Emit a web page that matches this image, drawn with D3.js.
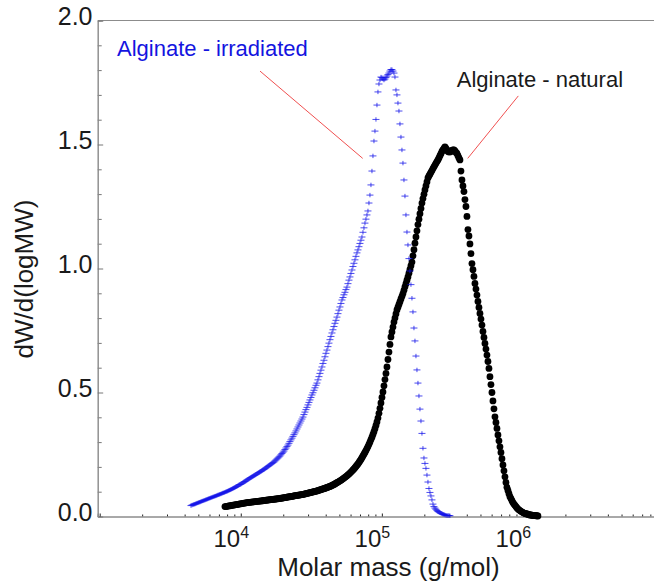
<!DOCTYPE html>
<html>
<head>
<meta charset="utf-8">
<script src="https://cdn.jsdelivr.net/npm/d3@7"></script>
<style>
    body { margin: 0; background: #fff; }
    text { font-family: "Liberation Sans", Arial, sans-serif; fill: #1a1a1a; }
</style>
</head>
<body>
<svg id="chart" width="654" height="586"></svg>
<script>
// GPC traces, sampled at a fixed step in log10(molar mass).
const logStep = 0.007088;
const irradiatedLogStart = 3.647;
const naturalLogStart = 3.888;

// dW/d(logMW), alginate after irradiation (blue crosses)
const irradiatedValues = [
    .044,.046,.047,.049,.050,.052,.054,.055,.057,.058,.060,.062,.063,.065,.066,.068,.069,.071,.073,.074,.076,.077,.079,
    .080,.082,.083,.085,.087,.088,.090,.091,.093,.095,.096,.098,.100,.101,.103,.105,.107,
    .109,.111,.113,.115,.117,.120,.122,.124,.127,.129,.131,.134,.136,.139,.141,.144,.147,
    .150,.152,.155,.157,.160,.162,.165,.167,.170,.172,.175,.177,.180,.182,.185,.188,
    .190,.193,.196,.199,.202,.205,.208,.211,.214,.217,.220,.224,.228,.232,
    .236,.240,.244,.249,.254,.259,.264,.270,.276,.282,.288,.295,.302,.309,.316,.323,.330,.337,
    .345,.353,.361,.369,.377,.385,.393,.401,
    .411,.421,.431,.440,.450,.460,.470,
    .480,.490,.499,.509,.519,.529,.538,
    .551,.564,.577,.590,.603,
    .617,.630,.644,.658,.671,
    .685,.699,.713,.726,.740,
    .753,.766,.779,.791,.804,
    .818,.832,.845,.859,.873,
    .883,.894,.904,.915,.925,
    .939,.953,.966,.980,.994,
    1.008,1.021,1.035,1.049,1.063,
    1.075,1.088,1.101,1.114,1.127,
    1.146,1.164,1.183,
    1.199,1.216,1.232,
    1.264,1.296,1.337,1.393,1.454,1.514,1.554,1.601,1.659,1.712,1.744,1.760,
    1.772,1.770,1.764,1.760,1.764,1.770,1.776,1.782,1.788,1.796,1.802,1.802,1.796,1.788,1.772,
    1.720,1.700,1.667,1.635,1.583,1.530,1.478,1.425,1.357,1.292,1.216,1.147,1.095,
    1.040,.990,.935,.880,.825,.760,.708,.647,.591,.538,.486,.433,
    .385,.335,.275,.236,.214,.194,.167,.139,.113,.097,.083,.067,.050,.040,.034,.029,
    .024,.020,.018,.015,.013,.011,.009,.008,.006,.005,.004,.004,.004,.003
];

// dW/d(logMW), natural alginate (black dots)
const naturalValues = [
    .040,.040,.041,.042,.043,.043,.044,.045,.046,.046,.047,.048,.048,.049,.050,.051,.051,.052,.053,.054,.054,.055,.056,
    .056,.057,.057,.058,.058,.059,.059,.060,.060,.061,.061,.062,.062,.063,.063,.064,.065,.065,.066,.066,.067,.067,.068,.068,.069,.069,.070,.070,.071,.071,.072,.072,.073,
    .074,.074,.075,.076,.076,.077,.078,.079,.079,.080,.081,.081,.082,.083,.084,.084,.085,.086,.086,.087,.088,.088,.089,.090,.091,
    .092,.093,.094,.095,.096,.097,.098,.099,.100,.101,.102,.103,.104,.106,.107,.108,.110,.111,.112,.114,.115,.117,.118,.120,.121,
    .123,.125,.127,.129,.131,.134,.136,.139,.141,.144,.146,.149,.152,.155,.158,.161,.164,
    .168,.171,.175,.179,.183,.188,.192,.197,.202,.207,.212,.218,.224,
    .230,.237,.244,.251,.258,.266,.274,.282,.291,.300,
    .310,.320,.331,.342,.354,.367,.381,
    .397,.416,.436,.458,.480,.502,
    .527,.552,.577,.603,.633,.663,.694,.724,
    .744,.764,.784,.800,.817,.833,
    .844,.855,.866,.877,.888,.899,
    .912,.926,.939,.953,.966,
    .981,.996,1.011,1.026,
    1.051,1.076,1.102,1.127,1.152,1.177,
    1.199,1.221,1.242,1.264,
    1.282,1.299,1.317,1.333,1.349,1.365,
    1.373,1.380,1.388,1.395,1.403,
    1.410,1.417,1.424,1.431,1.438,
    1.446,1.455,1.463,1.472,1.478,1.484,1.490,
    1.484,1.478,1.472,1.470,1.470,1.472,1.476,1.478,1.478,1.474,1.468,1.464,1.455,1.446,1.438,
    1.393,1.357,1.333,1.310,1.278,1.250,1.210,1.157,1.131,1.099,1.060,1.020,.995,.968,.940,
    .917,.893,.867,.843,.819,.796,.772,.746,.722,.698,.675,.651,.625,.597,.564,
    .532,.500,.466,.434,.402,.379,.355,.329,.305,.281,.258,.233,.208,.184,.160,
    .137,.118,.105,.092,.080,.072,.064,.056,.050,.045,.040,.035,.030,.027,.024,
    .021,.019,.016,.014,.013,.011,.010,.009,.007,.006,.006,.005,.004,.004,.004,.003,.003,.002
];

const yMajorTicks = [0, 0.5, 1.0, 1.5, 2.0];
const xLabelExponents = [4, 5, 6];

// Annotation text and the leader lines, in data coordinates.
const labelTexts = ["Alginate - irradiated", "Alginate - natural"];
const labelColors = ["#1414e0", "#1a1a1a"];
const labelAnchors = [[1327, 1.857], [339400, 1.732]];
const leaderStarts = [[13690, 1.796], [927600, 1.696]];
const leaderEnds = [[73170, 1.444], [406100, 1.444]];

const plot = { left: 97.7, right: 664, top: 20.5, bottom: 516.5 };

const svg = d3.select("#chart");

const x = d3.scaleLog()
    .domain([968, 1e7])
    .range([plot.left, plot.right]);

const y = d3.scaleLinear()
    .domain([0, 2])
    .range([plot.bottom, plot.top]);

// Pair each value with its molar mass.
const toPoints = (start, values) => values.map((v, i) => ({ m: Math.pow(10, start + i * logStep), v: v }));
const irradiated = toPoints(irradiatedLogStart, irradiatedValues);
const natural = toPoints(naturalLogStart, naturalValues);

// Frame: top line, left axis, bottom axis.
const axisColor = "#8c8c8c";
svg.append("line")
    .attr("x1", plot.left).attr("x2", plot.right)
    .attr("y1", plot.top).attr("y2", plot.top)
    .attr("stroke", axisColor);

// Y axis -- ticks point inward, minor every 0.1.
const yAxisMinor = d3.axisRight(y)
    .tickValues(d3.range(0, 21).map(d => d / 10).filter(d => !yMajorTicks.includes(d)))
    .tickSize(4)
    .tickFormat("");
const yAxisMajor = d3.axisRight(y)
    .tickValues(yMajorTicks)
    .tickSize(5.5)
    .tickFormat("");
[yAxisMinor, yAxisMajor].forEach(ax => {
    const g = svg.append("g")
        .attr("transform", `translate(${plot.left},0)`)
        .call(ax);
    g.select(".domain").attr("stroke", axisColor);
    g.selectAll(".tick line").attr("stroke", "#777");
});

svg.selectAll(".ytick-label")
    .data(yMajorTicks)
    .enter().append("text")
    .attr("class", "ytick-label")
    .attr("x", 92.5)
    .attr("y", d => y(d) - 2)
    .attr("text-anchor", "end")
    .attr("dominant-baseline", "middle")
    .style("font-size", "25px")
    .text(d => d.toFixed(1));

// X axis -- log ticks pointing up into the plot.
const allX = x.ticks().filter(d => d >= x.domain()[0]);
const isDecade = d => Math.abs(Math.log10(d) - Math.round(Math.log10(d))) < 1e-9;
const xAxisMinor = d3.axisTop(x)
    .tickValues(allX.filter(d => !isDecade(d)))
    .tickSize(2)
    .tickFormat("");
const xAxisMajor = d3.axisTop(x)
    .tickValues(allX.filter(isDecade))
    .tickSize(3)
    .tickFormat("");
[xAxisMinor, xAxisMajor].forEach(ax => {
    const g = svg.append("g")
        .attr("transform", `translate(0,${plot.bottom})`)
        .call(ax);
    g.select(".domain").attr("stroke", axisColor);
    g.selectAll(".tick line").attr("stroke", "#222");
});

const xLabels = svg.selectAll(".xtick-label")
    .data(xLabelExponents)
    .enter().append("text")
    .attr("class", "xtick-label")
    .attr("x", d => x(Math.pow(10, d)) - 9.5)
    .attr("y", 547)
    .attr("text-anchor", "middle")
    .style("font-size", "24px");
xLabels.append("tspan").text("10");
xLabels.append("tspan")
    .attr("dy", -9)
    .style("font-size", "16px")
    .text(d => d);

// Axis titles.
svg.append("text")
    .attr("x", 388.5)
    .attr("y", 576)
    .attr("text-anchor", "middle")
    .style("font-size", "26px")
    .text("Molar mass (g/mol)");

svg.append("text")
    .attr("transform", "translate(33,279) rotate(-90)")
    .attr("text-anchor", "middle")
    .style("font-size", "26px")
    .text("dW/d(logMW)");

// Natural alginate: filled black dots.
svg.append("g")
    .selectAll("circle")
    .data(natural)
    .enter().append("circle")
    .attr("cx", d => x(d.m))
    .attr("cy", d => y(d.v))
    .attr("r", 3.4)
    .attr("fill", "#000");

// Irradiated alginate: small blue crosses drawn on top.
svg.append("g")
    .selectAll("path")
    .data(irradiated)
    .enter().append("path")
    .attr("transform", d => `translate(${x(d.m)},${y(d.v)})`)
    .attr("d", "M-3.5,0H3.5M0,-2.2V2.2")
    .attr("stroke", "#1010e8")
    .attr("stroke-opacity", 0.75)
    .attr("stroke-width", 1)
    .attr("fill", "none");

// Leader lines and labels.
svg.selectAll(".leader")
    .data(leaderStarts)
    .enter().append("line")
    .attr("class", "leader")
    .attr("x1", d => x(d[0]))
    .attr("y1", d => y(d[1]))
    .attr("x2", (d, i) => x(leaderEnds[i][0]))
    .attr("y2", (d, i) => y(leaderEnds[i][1]))
    .attr("stroke", "#f05050")
    .attr("stroke-width", 1);

svg.selectAll(".series-label")
    .data(labelTexts)
    .enter().append("text")
    .attr("class", "series-label")
    .attr("x", (d, i) => x(labelAnchors[i][0]))
    .attr("y", (d, i) => y(labelAnchors[i][1]))
    .style("font-size", "22px")
    .style("fill", (d, i) => labelColors[i])
    .text(d => d);
</script>
</body>
</html>
